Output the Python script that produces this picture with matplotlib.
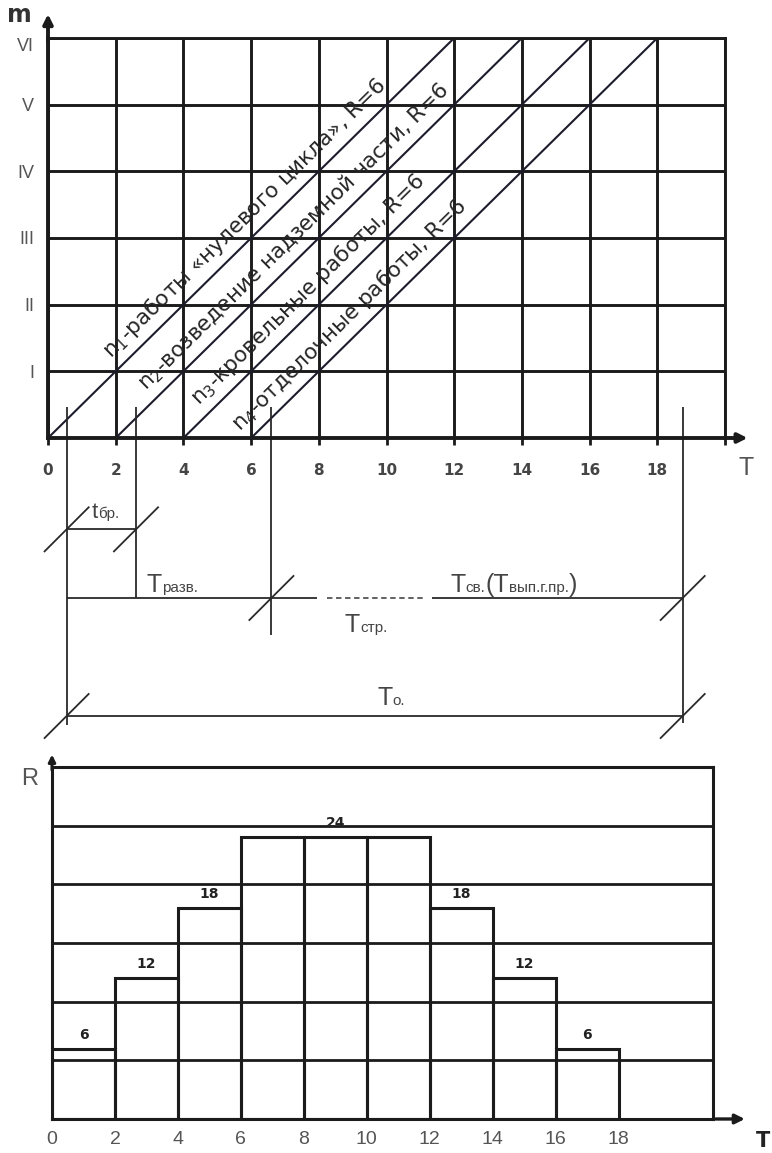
import matplotlib
matplotlib.use("Agg")
import matplotlib.pyplot as plt
import numpy as np
from matplotlib.transforms import ScaledTranslation

# ---- data ----
T_ticks = [0, 2, 4, 6, 8, 10, 12, 14, 16, 18]
levels = ["I", "II", "III", "IV", "V", "VI"]
flow_starts = [0, 2, 4, 6]
flow_duration = 12
flow_labels = [
    r"n$_1$-работы «нулевого цикла», R=6",
    r"n$_2$-возведение надземной части, R=6",
    r"n$_3$-кровельные работы, R=6",
    r"n$_4$-отделочные работы, R=6",
]
flow_label_T = [5.75, 7.2, 7.6, 8.85]

# dimension marks below the cyclogram (T)
t_first = 0.55      # start of first flow
t_second = 2.6      # start of second flow (t бр.)
t_deploy = 6.6      # end of deployment period
t_end = 18.75       # end of construction

R_left = [0, 2, 4, 6, 8, 10, 12, 14, 16]
R_values = [6, 12, 18, 24, 24, 24, 18, 12, 6]
R_shown = ["6", "12", "18", "", "24", "", "18", "12", "6"]
R_ticks = [0, 2, 4, 6, 8, 10, 12, 14, 16, 18]

INK = "#1b1b1b"
GREY = "#454545"

fig = plt.figure(figsize=(7.72, 11.53), dpi=100)

# ── Top: cyclogram ──
ax = fig.add_axes([48 / 772, 1 - 438 / 1153, 677 / 772, 400 / 1153])
ax.set_xlim(0, 20)
ax.set_ylim(0, 6)
ax.set_xticks(np.arange(0, 21, 2))
ax.set_xticklabels([str(t) for t in T_ticks] + [""])
ax.set_yticks(range(1, 7))
ax.set_yticklabels(levels)
ax.grid(True, color=INK, lw=2.1)
for s in ax.spines.values():
    s.set_color(INK)
    s.set_linewidth(2.1)
ax.spines["left"].set_linewidth(2.8)
ax.spines["bottom"].set_linewidth(2.8)
ax.tick_params(axis="x", direction="out", length=5, width=2, color=INK,
               pad=13, labelsize=11, labelcolor=GREY)
for lbl in ax.get_xticklabels():
    lbl.set_fontweight("bold")
ax.tick_params(axis="y", length=0, pad=10, labelsize=13, labelcolor="#555555")
for lbl in ax.get_yticklabels():
    lbl.set_fontfamily("Liberation Sans")
ax.get_yticklabels()[-1].set_va("top")

ax.annotate("", xy=(20.75, 0), xytext=(19.9, 0), annotation_clip=False,
            arrowprops=dict(arrowstyle="-|>", color=INK, lw=2.8, mutation_scale=14))
ax.annotate("", xy=(0, 6.4), xytext=(0, 5.9), annotation_clip=False,
            arrowprops=dict(arrowstyle="-|>", color=INK, lw=2.8, mutation_scale=14))
ax.text(20.4, -0.45, "T", fontsize=18, color="#555555", family="Liberation Sans",
        va="center", ha="left", clip_on=False)
ax.text(-0.85, 6.35, "m", fontsize=17, fontweight="bold", color="#333333",
        va="center", ha="center", clip_on=False)

# flow lines and labels
for s, label, tc in zip(flow_starts, flow_labels, flow_label_T):
    ax.plot([s, s + flow_duration], [0, 6], color="#1c1c2c", lw=1.5)
    ang = np.degrees(np.arctan2(6, flow_duration))
    ax.text(tc, (tc - s + 1) / 2 - 0.04, label, rotation=ang,
            transform_rotates_text=True, rotation_mode="anchor", ha="center",
            va="center_baseline", fontsize=15.5, color="#262626")

# ── Middle: period dimensions ──
LW = 1.3


def seg(x, y):
    ax.plot(x, y, color="#2a2a2a", lw=LW, clip_on=False, solid_capstyle="butt")


def slash(x, y):
    seg([x - 0.67, x + 0.67], [y - 0.34, y + 0.34])


def run_text(x, y, pieces):
    r = fig.canvas.get_renderer()
    dx = 0.0
    for txt, size in pieces:
        tr = ax.transData + ScaledTranslation(dx / 72, 0, fig.dpi_scale_trans)
        t = ax.text(x, y, txt, fontsize=size, color=GREY, family="Liberation Sans",
                    ha="left", va="baseline", transform=tr, clip_on=False)
        dx += t.get_window_extent(r).width * 72 / fig.dpi


y_top = 0.46
y_br = -1.37
y_razv = -2.4
y_o = -4.17

seg([t_first, t_first], [y_top, -4.3])
seg([t_second, t_second], [y_top, y_razv])
seg([t_deploy, t_deploy], [y_top, -2.96])
seg([t_end, t_end], [y_top, -4.27])

seg([t_first, t_second], [y_br, y_br])
slash(t_first, y_br)
slash(t_second, y_br)

seg([t_first, 7.95], [y_razv, y_razv])
ax.plot([8.25, 11.1], [y_razv, y_razv], color="#555555", lw=LW, ls=(0, (3, 2)),
        clip_on=False)
seg([11.35, t_end], [y_razv, y_razv])
slash(t_deploy, y_razv)
slash(t_end, y_razv)

seg([t_first, t_end], [y_o, y_o])
slash(t_first, y_o)
slash(t_end, y_o)

run_text(1.3, -1.2, [("t", 16), ("бр.", 11)])
run_text(2.92, -2.31, [("T", 18), ("разв.", 11)])
run_text(8.77, -2.91, [("T", 18), ("стр.", 11)])
run_text(11.88, -2.31, [("T", 18), ("св.", 11), ("(T", 18), ("вып.г.пр.", 11), (")", 18)])
run_text(9.72, -4.0, [("T", 18), ("о.", 11)])

# ── Bottom: resource histogram ──
bx = fig.add_axes([52 / 772, 1 - 1119 / 1153, 661 / 772, 352 / 1153])
bx.set_xlim(0, 21)
bx.set_ylim(0, 30)
bx.set_yticks(range(0, 31, 5))
bx.set_yticklabels([])
bx.set_xticks(R_ticks)
bx.grid(True, axis="y", color=INK, lw=2)
bx.set_axisbelow(True)
bars = bx.bar(R_left, R_values, width=2, align="edge", fill=False,
              edgecolor=INK, lw=2.2)
bx.bar_label(bars, labels=R_shown, padding=5, fontsize=10, fontweight="bold",
             color="#222222")
for s in bx.spines.values():
    s.set_color(INK)
    s.set_linewidth(2.2)
bx.tick_params(axis="x", length=0, pad=9, labelsize=14, labelcolor="#555555")
bx.tick_params(axis="y", length=0)
for lbl in bx.get_xticklabels():
    lbl.set_fontfamily("Liberation Sans")

bx.annotate("", xy=(22.1, 0), xytext=(21, 0), annotation_clip=False,
            arrowprops=dict(arrowstyle="-|>", color=INK, lw=2.4, mutation_scale=14))
bx.annotate("", xy=(0, 31.3), xytext=(0, 29.5), annotation_clip=False,
            arrowprops=dict(arrowstyle="-|>", color=INK, lw=2.2, mutation_scale=10))
bx.text(22.35, -1.9, "T", fontsize=15, fontweight="bold", color="#222222",
        va="center", ha="left", clip_on=False)
bx.text(-0.7, 29.0, "R", fontsize=17, color="#555555", family="Liberation Sans",
        va="center", ha="center", clip_on=False)

fig.savefig("out.png", dpi=100)
plt.close(fig)
